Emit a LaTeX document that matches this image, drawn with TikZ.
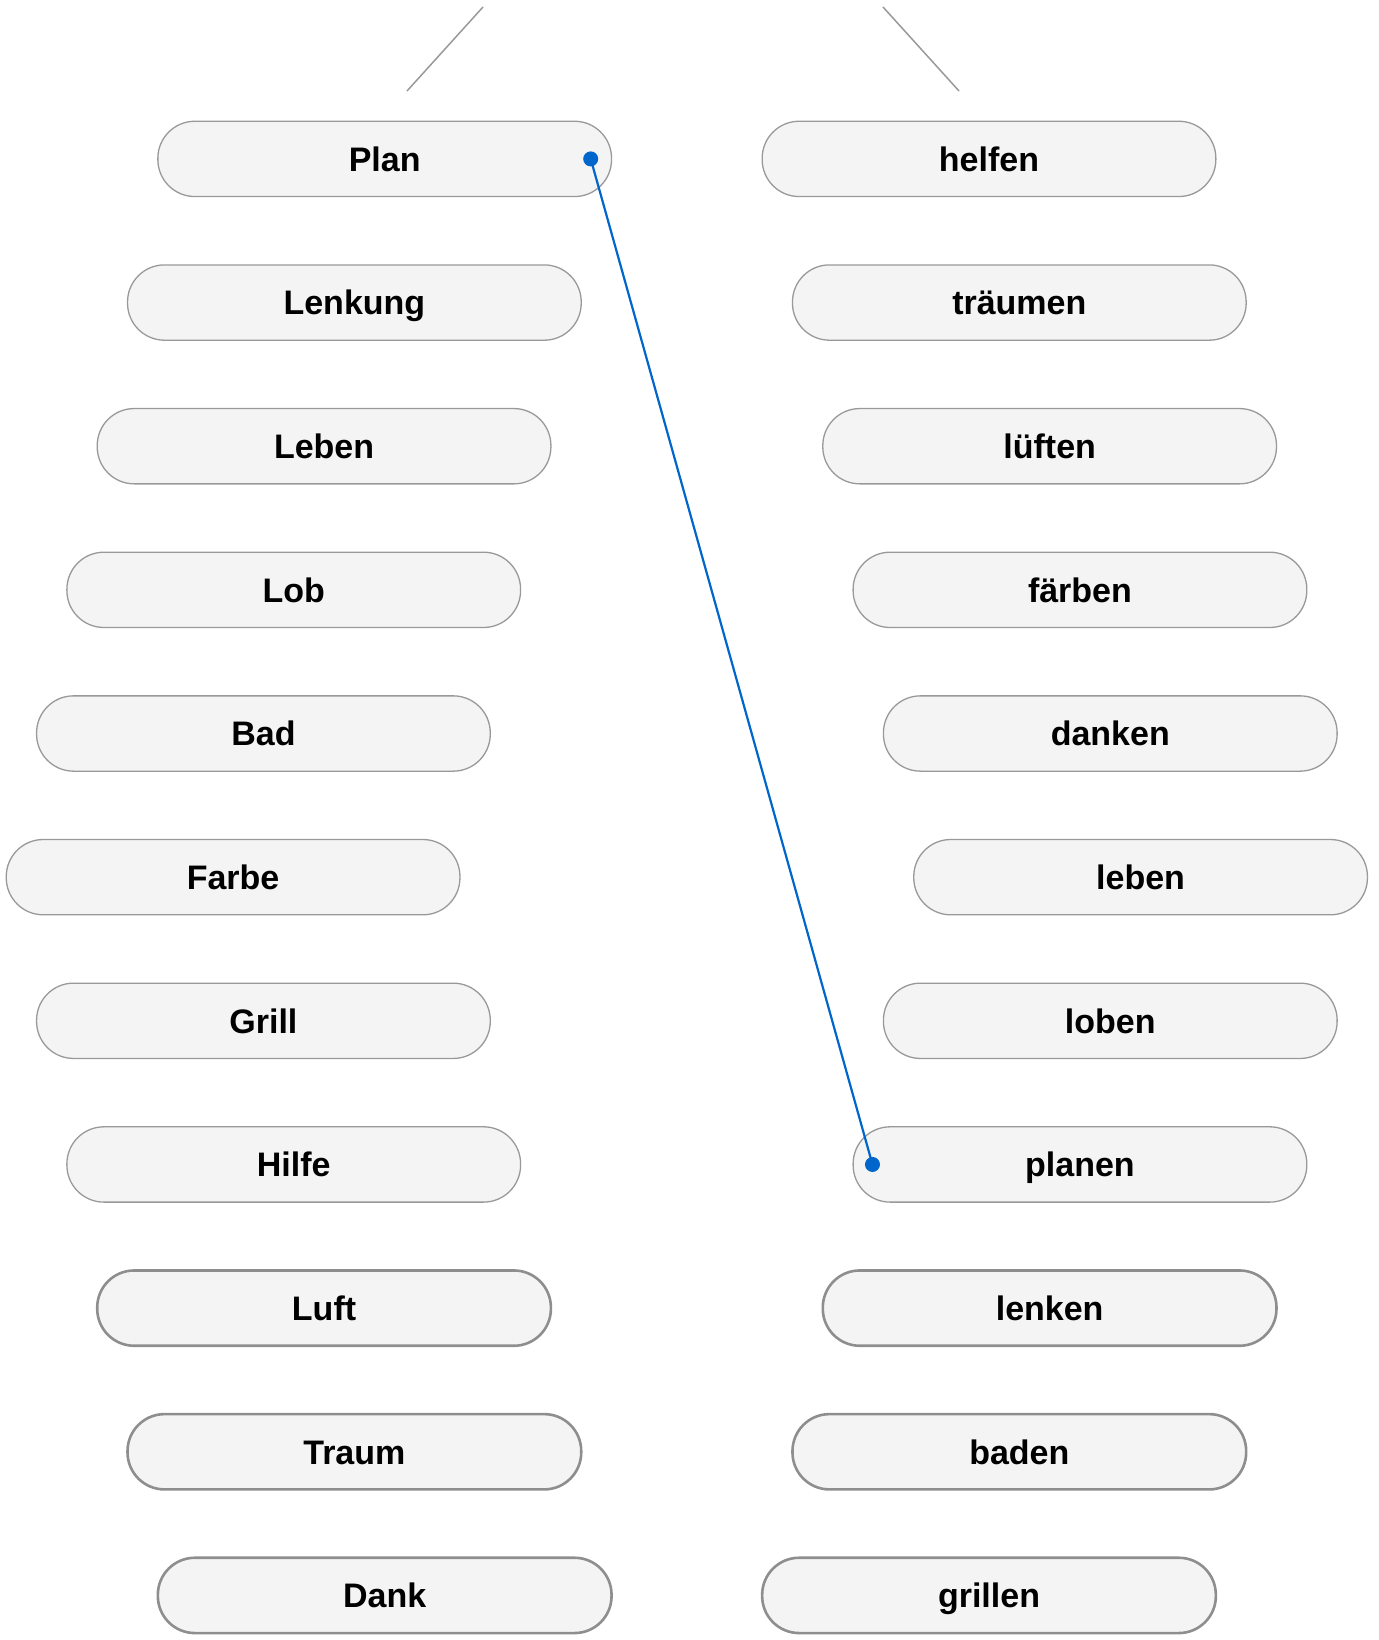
\documentclass[tikz,border=0pt]{standalone}
\usepackage{fontspec}
\setmainfont{Liberation Sans}
\usetikzlibrary{calc}
\definecolor{boxfill}{HTML}{F4F4F4}
\definecolor{boxline}{HTML}{999999}
\definecolor{boxlinedark}{HTML}{8E8E8E}
\definecolor{linkblue}{HTML}{0066CC}
\begin{document}
\begin{tikzpicture}[x=1pt,y=1pt,
  pill/.style={draw=boxline, line width=1.3pt, fill=boxfill, rounded corners=37pt,
    minimum width=453.7pt, minimum height=75.3pt, inner sep=0pt,
    text height=24.5pt, text depth=-4.5pt,
    font=\fontsize{34}{40}\selectfont\bfseries},
  pillthick/.style={pill, draw=boxlinedark, line width=2.6pt},
  link/.style={draw=linkblue, line width=2.2pt},
  dot/.style={fill=linkblue},
  deco/.style={draw=boxline, line width=1.5pt}]
\useasboundingbox (0,0) rectangle (1378,-1640);
\pgfmathsetmacro{\dy}{143.65}
\pgfmathsetmacro{\dx}{30.32}
% left column
\node[pill] (plan) at (384.7-0*\dx, -158.9-0*\dy) {Plan};
\node[pill] (lenkung) at (384.7-1*\dx, -158.9-1*\dy) {Lenkung};
\node[pill] (lebenN) at (384.7-2*\dx, -158.9-2*\dy) {Leben};
\node[pill] (lob) at (384.7-3*\dx, -158.9-3*\dy) {Lob};
\node[pill] (bad) at (384.7-4*\dx, -158.9-4*\dy) {Bad};
\node[pill] (farbe) at (384.7-5*\dx, -158.9-5*\dy) {Farbe};
\node[pill] (grill) at (384.7-4*\dx, -158.9-6*\dy) {Grill};
\node[pill] (hilfe) at (384.7-3*\dx, -158.9-7*\dy) {Hilfe};
\node[pillthick] (luft) at (384.7-2*\dx, -158.9-8*\dy) {Luft};
\node[pillthick] (traum) at (384.7-1*\dx, -158.9-9*\dy) {Traum};
\node[pillthick] (dank) at (384.7-0*\dx, -158.9-10*\dy) {Dank};
% right column
\node[pill] (helfen) at (989.0+0*\dx, -158.9-0*\dy) {helfen};
\node[pill] (traeumen) at (989.0+1*\dx, -158.9-1*\dy) {träumen};
\node[pill] (lueften) at (989.0+2*\dx, -158.9-2*\dy) {lüften};
\node[pill] (faerben) at (989.0+3*\dx, -158.9-3*\dy) {färben};
\node[pill] (danken) at (989.0+4*\dx, -158.9-4*\dy) {danken};
\node[pill] (lebenV) at (989.0+5*\dx, -158.9-5*\dy) {leben};
\node[pill] (loben) at (989.0+4*\dx, -158.9-6*\dy) {loben};
\node[pill] (planen) at (989.0+3*\dx, -158.9-7*\dy) {planen};
\node[pillthick] (lenken) at (989.0+2*\dx, -158.9-8*\dy) {lenken};
\node[pillthick] (baden) at (989.0+1*\dx, -158.9-9*\dy) {baden};
\node[pillthick] (grillen) at (989.0+0*\dx, -158.9-10*\dy) {grillen};
% top decoration lines
\coordinate (tl1) at (407,-91);
\coordinate (tl2) at (483,-7);
\coordinate (tr1) at (883,-7);
\coordinate (tr2) at (959,-91);
\draw[deco] (tl1) -- (tl2);
\draw[deco] (tr1) -- (tr2);
% connector
\coordinate (pA) at ($(plan.east)+(-21.5,0)$);
\coordinate (pB) at ($(planen.west)+(20,0)$);
\draw[link] (pA) -- (pB);
\fill[dot] (pA) circle (7.5);
\fill[dot] (pB) circle (7.5);
\end{tikzpicture}
\end{document}
